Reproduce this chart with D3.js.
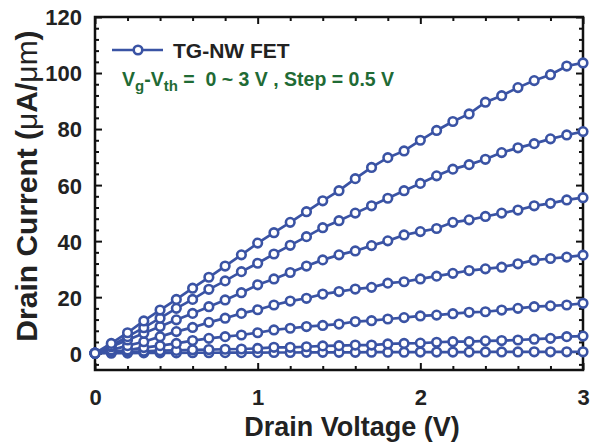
<!DOCTYPE html>
<html>
<head>
<meta charset="utf-8">
<script src="https://cdn.jsdelivr.net/npm/d3@7"></script>
<style>
body { margin: 0; background: #fff; }
text { font-family: "Liberation Sans", Arial, sans-serif; font-weight: bold; }
</style>
</head>
<body>
<svg class="chart"></svg>
<script>
// drain voltage sweep (V)
var drainVoltage = [0, 0.1, 0.2, 0.3, 0.4, 0.5, 0.6, 0.7, 0.8, 0.9, 1.0,
    1.1, 1.2, 1.3, 1.4, 1.5, 1.6, 1.7, 1.8, 1.9, 2.0,
    2.1, 2.2, 2.3, 2.4, 2.5, 2.6, 2.7, 2.8, 2.9, 3.0];

// Vg - Vth steps
var gateSteps = [0, 0.5, 1.0, 1.5, 2.0, 2.5, 3.0];

// drain current (uA/um), one list per gate step
var id0 = [0, 0, 0.05, 0.1, 0.1, 0.1, 0.15, 0.15, 0.2, 0.2, 0.2, 0.25, 0.25, 0.3, 0.3, 0.3,
    0.3, 0.35, 0.35, 0.35, 0.4, 0.4, 0.4, 0.4, 0.45, 0.45, 0.45, 0.5, 0.5, 0.5, 0.5];
var id05 = [0, 0.3, 0.5, 0.7, 0.9, 1.0, 1.2, 1.3, 1.4, 1.5, 1.7, 2.1, 2.1, 2.3, 2.6, 2.7,
    2.9, 2.9, 3.3, 3.5, 3.6, 3.9, 4.1, 4.1, 4.4, 4.5, 4.7, 5.0, 5.3, 5.9, 6.1];
var id10 = [0, 0.5, 1.1, 2.0, 2.7, 3.5, 4.5, 5.3, 5.9, 6.5, 7.3, 8.3, 8.9, 9.5, 9.9, 10.4,
    11.3, 11.6, 12.2, 12.7, 13.3, 13.6, 14.1, 14.6, 14.8, 15.4, 16.0, 16.6, 16.9, 17.2, 17.8];
var id15 = [0, 1.1, 2.7, 4.1, 5.9, 7.7, 9.2, 11.0, 12.5, 14.2, 15.5, 17.2, 18.6, 19.6, 21.1, 22.0,
    22.9, 23.5, 25.0, 25.5, 26.5, 27.5, 28.5, 29.5, 30.1, 30.7, 31.9, 33.2, 33.8, 34.3, 35.0];
var id20 = [0, 2.3, 4.7, 7.1, 9.5, 11.9, 14.2, 16.6, 19.0, 21.6, 24.4, 26.5, 28.8, 31.1, 33.3, 35.1,
    36.5, 38.4, 40.1, 42.2, 43.4, 44.5, 46.7, 47.6, 48.8, 50.0, 51.1, 52.6, 53.5, 54.7, 55.5];
var id25 = [0, 2.7, 5.9, 9.1, 12.5, 16.0, 19.2, 22.8, 25.8, 29.1, 32.1, 35.4, 38.5, 41.6, 44.8, 47.3,
    50.0, 52.6, 55.3, 58.0, 60.6, 63.3, 65.7, 67.3, 69.2, 71.6, 73.3, 74.8, 76.5, 77.9, 79.1];
var id30 = [0, 3.5, 7.3, 11.5, 15.4, 19.2, 23.2, 27.1, 31.1, 35.1, 39.3, 43.0, 46.7, 50.5, 54.4, 58.0,
    62.3, 66.3, 69.8, 72.2, 76.0, 79.5, 82.7, 85.4, 89.6, 91.9, 94.8, 97.3, 99.4, 102.5, 103.6];

var xMajor = [0, 1, 2, 3];
var xMinor = [0.2, 0.4, 0.6, 0.8, 1.2, 1.4, 1.6, 1.8, 2.2, 2.4, 2.6, 2.8];
var yMajor = [0, 20, 40, 60, 80, 100, 120];
var yMinor = [-4, 4, 8, 12, 16, 24, 28, 32, 36, 44, 48, 52, 56, 64, 68, 72, 76, 84, 88, 92, 96, 104, 108, 112, 116];

var width = 597;
var height = 445;
var blue = "#3a53a4";
var green = "#1f6b35";

// plot box (named to avoid clashing with window.top)
var pLeft = 95, pRight = 583, pTop = 17, pBottom = 370;

var x = d3.scaleLinear().domain([0, 3]).range([pLeft, pRight]);
var y = d3.scaleLinear().domain([-6, 120]).range([pBottom, pTop]);

var chart = d3.select(".chart")
    .attr("width", width)
    .attr("height", height);

var series = [id0, id05, id10, id15, id20, id25, id30].map(function(vals, i) {
    return { step: gateSteps[i], points: vals.map(function(v, j) { return [drainVoltage[j], v]; }) };
});

// axes: ticks point inward, labels only on bottom / left
function styleAxis(g) {
    g.select(".domain").remove();
    g.selectAll("line").attr("stroke", "#111").attr("stroke-width", 2);
}

chart.append("g")
    .attr("transform", "translate(0," + pBottom + ")")
    .call(d3.axisBottom(x).tickValues(xMinor).tickSize(-4).tickFormat(""))
    .call(styleAxis);
var xAx = chart.append("g")
    .attr("transform", "translate(0," + pBottom + ")")
    .call(d3.axisBottom(x).tickValues(xMajor).tickSize(-7).tickFormat(d3.format("d")))
    .call(styleAxis);
xAx.selectAll("text").attr("y", 35).attr("dy", 0).attr("font-size", 22).attr("fill", "#222");

chart.append("g")
    .attr("transform", "translate(0," + pTop + ")")
    .call(d3.axisTop(x).tickValues(xMinor).tickSize(-4).tickFormat(""))
    .call(styleAxis);
chart.append("g")
    .attr("transform", "translate(0," + pTop + ")")
    .call(d3.axisTop(x).tickValues(xMajor).tickSize(-7).tickFormat(""))
    .call(styleAxis);

chart.append("g")
    .attr("transform", "translate(" + pLeft + ",0)")
    .call(d3.axisLeft(y).tickValues(yMinor).tickSize(-4).tickFormat(""))
    .call(styleAxis);
var yAx = chart.append("g")
    .attr("transform", "translate(" + pLeft + ",0)")
    .call(d3.axisLeft(y).tickValues(yMajor).tickSize(-7).tickFormat(d3.format("d")))
    .call(styleAxis);
yAx.selectAll("text").attr("x", -13).attr("dy", "0.36em").attr("font-size", 22).attr("fill", "#222");

chart.append("g")
    .attr("transform", "translate(" + pRight + ",0)")
    .call(d3.axisRight(y).tickValues(yMinor).tickSize(-4).tickFormat(""))
    .call(styleAxis);
chart.append("g")
    .attr("transform", "translate(" + pRight + ",0)")
    .call(d3.axisRight(y).tickValues(yMajor).tickSize(-7).tickFormat(""))
    .call(styleAxis);

// frame
chart.append("rect")
    .attr("x", pLeft).attr("y", pTop)
    .attr("width", pRight - pLeft).attr("height", pBottom - pTop)
    .attr("fill", "none").attr("stroke", "#111").attr("stroke-width", 2.5);

// curves
var line = d3.line()
    .x(function(d) { return x(d[0]); })
    .y(function(d) { return y(d[1]); });

var curves = chart.selectAll("g.curve")
    .data(series)
    .enter()
    .append("g")
    .attr("class", "curve");

curves.append("path")
    .attr("d", function(d) { return line(d.points); })
    .attr("fill", "none")
    .attr("stroke", blue)
    .attr("stroke-width", 2.7);

curves.selectAll("circle")
    .data(function(d) { return d.points; })
    .enter()
    .append("circle")
    .attr("cx", function(d) { return x(d[0]); })
    .attr("cy", function(d) { return y(d[1]); })
    .attr("r", 4.3)
    .attr("fill", "#fff")
    .attr("stroke", blue)
    .attr("stroke-width", 2.6);

// legend
var leg = chart.append("g");
leg.append("line")
    .attr("x1", 112).attr("x2", 163).attr("y1", 50).attr("y2", 50)
    .attr("stroke", blue).attr("stroke-width", 2.7);
leg.append("circle")
    .attr("cx", 138).attr("cy", 50).attr("r", 4.3)
    .attr("fill", "#fff").attr("stroke", blue).attr("stroke-width", 2.6);
leg.append("text")
    .attr("x", 173).attr("y", 58)
    .attr("font-size", 21).attr("fill", "#222")
    .text("TG-NW FET");

var note = chart.append("text")
    .attr("x", 122).attr("y", 86)
    .attr("font-size", 19.5).attr("fill", green);
note.append("tspan").text("V");
note.append("tspan").attr("font-size", 15).attr("dy", 5).text("g");
note.append("tspan").attr("dy", -5).text("-V");
note.append("tspan").attr("font-size", 15).attr("dy", 5).text("th");
note.append("tspan").attr("dy", -5).attr("xml:space", "preserve").text(" =  0 ~ 3 V , Step = 0.5 V");

// axis titles
chart.append("text")
    .attr("x", 352).attr("y", 436)
    .attr("text-anchor", "middle")
    .attr("font-size", 27).attr("fill", "#222")
    .text("Drain Voltage (V)");

var yt = chart.append("text")
    .attr("transform", "translate(37,186) rotate(-90)")
    .attr("text-anchor", "middle")
    .attr("font-size", 30).attr("fill", "#222");
yt.append("tspan").text("Drain Current (");
yt.append("tspan").attr("font-weight", "normal").text("\u03bc");
yt.append("tspan").text("A/");
yt.append("tspan").attr("font-weight", "normal").text("\u03bcm");
yt.append("tspan").text(")");
</script>
</body>
</html>
